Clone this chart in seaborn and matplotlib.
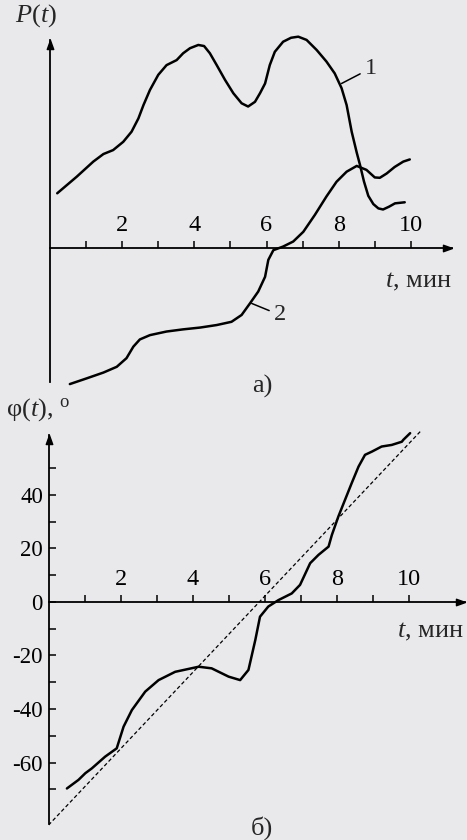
import numpy as np
import pandas as pd
import matplotlib
matplotlib.use("Agg")
import matplotlib.pyplot as plt
import seaborn as sns

# ---------------- data ----------------
# panel а) curve 1, P(t) (arbitrary units)
t_p1 = [0.20, 0.74, 1.2, 1.48, 1.75, 2.03, 2.26, 2.45, 2.59, 2.77, 3.0, 3.23, 3.51,
        3.69, 3.88, 4.11, 4.27, 4.43, 4.62, 4.85, 5.08, 5.31, 5.49, 5.68, 5.82,
        5.96, 6.09, 6.23, 6.46, 6.68, 6.88, 7.11, 7.39, 7.66, 7.89, 8.08, 8.22,
        8.36, 8.5, 8.59, 8.7, 8.82, 8.96, 9.1, 9.23, 9.4, 9.56, 9.83]
p1 = [1.52, 1.98, 2.40, 2.61, 2.72, 2.95, 3.23, 3.60, 3.97, 4.39, 4.81, 5.08, 5.22,
      5.41, 5.55, 5.64, 5.61, 5.41, 5.08, 4.67, 4.30, 4.02, 3.93, 4.06, 4.30,
      4.57, 5.08, 5.45, 5.73, 5.84, 5.87, 5.78, 5.50, 5.18, 4.85, 4.44, 3.97,
      3.23, 2.65, 2.31, 1.85, 1.45, 1.22, 1.10, 1.07, 1.15, 1.24, 1.27]
# panel а) curve 2
t_p2 = [0.55, 1.02, 1.48, 1.85, 2.12, 2.31, 2.49, 2.77, 3.23, 3.69, 4.16, 4.62,
        5.03, 5.31, 5.54, 5.77, 5.96, 6.05, 6.19, 6.46, 6.74, 7.02, 7.34, 7.66,
        7.94, 8.22, 8.5, 8.77, 9.0, 9.14, 9.33, 9.55, 9.79, 9.97]
p2 = [-3.78, -3.62, -3.46, -3.30, -3.06, -2.74, -2.54, -2.42, -2.32, -2.26, -2.21,
      -2.14, -2.05, -1.86, -1.54, -1.21, -0.80, -0.33, -0.06, 0.04, 0.18, 0.45,
      0.92, 1.43, 1.84, 2.12, 2.28, 2.17, 1.96, 1.95, 2.07, 2.25, 2.40, 2.46]
# panel б) phase phi(t), degrees
t_phi = [0.51, 0.83, 1.02, 1.2, 1.57, 1.89, 2.08, 2.31, 2.68, 3.05, 3.51, 4.16, 4.52,
         4.99, 5.31, 5.54, 5.73, 5.86, 6.09, 6.37, 6.74, 6.97, 7.25, 7.48, 7.76,
         7.85, 8.03, 8.4, 8.59, 8.77, 8.96, 9.23, 9.51, 9.79, 9.83, 10.02]
phi = [-69.7, -66.5, -64.0, -62.2, -57.8, -54.7, -46.6, -40.4, -33.5, -29.2, -26.1,
       -24.2, -24.8, -27.9, -29.2, -25.4, -14.2, -5.5, -1.7, 0.7, 3.2, 6.4, 14.5,
       17.6, 20.7, 25.0, 31.9, 44.4, 50.6, 55.0, 56.2, 58.1, 58.7, 59.9, 60.6, 63.1]
# panel б) dashed linear trend
t_lin = [0.0, 10.3]
phi_lin = [-83.4, 63.7]

x_major = [2, 4, 6, 8, 10]
x_minor = [1, 3, 5, 7, 9]
y_major = [-60, -40, -20, 0, 20, 40]
y_minor = [-70, -50, -30, -10, 10, 30, 50]
y_labels = ["-60", "-40", "-20", "0", "20", "40"]

# ---------------- style ----------------
sns.set_theme(style="white")
plt.rcParams["font.family"] = ["Liberation Serif", "DejaVu Serif"]
plt.rcParams["mathtext.fontset"] = "custom"
plt.rcParams["mathtext.rm"] = "Liberation Serif"
plt.rcParams["mathtext.it"] = "Liberation Serif:italic"
plt.rcParams["axes.unicode_minus"] = False

BG = "#e9e9ec"
W, H = 467, 840
fig = plt.figure(figsize=(W / 100, H / 100), dpi=100, facecolor=BG)
XFS = 17.5
YFS = 16.5
TFS = 19
LW = 1.8

ARROW_R = [(0, 0), (-1, 0.36), (-1, -0.36), (0, 0)]
ARROW_U = [(0, 0), (0.36, -1), (-0.36, -1), (0, 0)]


def px_axes(left, right, top, bottom):
    return fig.add_axes([left / W, 1 - bottom / H, (right - left) / W, (bottom - top) / H])


def style_axes(ax, ytop, ybot):
    ax.set_facecolor("none")
    for s in ["top", "right"]:
        ax.spines[s].set_visible(False)
    ax.spines["bottom"].set_position(("data", 0))
    ax.spines["left"].set_bounds(ybot, ytop)
    for s in ["bottom", "left"]:
        ax.spines[s].set_color("black")
        ax.spines[s].set_linewidth(1.3)
    ax.plot(1, 0, marker=ARROW_R, color="black", ms=13, transform=ax.get_yaxis_transform(),
            clip_on=False)
    ax.plot(0, ytop, marker=ARROW_U, color="black", ms=13, clip_on=False)
    ax.set_xticks(x_major)
    ax.set_xticklabels([str(v) for v in x_major], fontsize=XFS)
    ax.set_xticks(x_minor, minor=True)
    ax.tick_params(axis="x", which="both", bottom=True, top=False, direction="in",
                   length=5, width=1.1, color="black", pad=-24, labelcolor="black")
    ax.set_xlabel("")
    ax.set_ylabel("")


# ---------------- panel а) ----------------
ax1 = px_axes(50, 452, 28.4, 388.4)
ax1.set_xlim(0, 11.14)
ax1.set_ylim(-3.9, 6.1)
d1 = pd.DataFrame({"t": t_p1, "P": p1})
d2 = pd.DataFrame({"t": t_p2, "P": p2})
sns.lineplot(data=d1, x="t", y="P", ax=ax1, color="black", lw=LW, sort=False, estimator=None)
sns.lineplot(data=d2, x="t", y="P", ax=ax1, color="black", lw=LW, sort=False, estimator=None)
style_axes(ax1, 5.78, -3.72)
ax1.set_yticks([])
ax1.annotate("1", xy=(8.08, 4.57), xytext=(8.72, 4.99), fontsize=XFS, ha="left", va="center",
             arrowprops=dict(arrowstyle="-", color="black", lw=1.1, shrinkA=1, shrinkB=0))
ax1.annotate("2", xy=(5.59, -1.54), xytext=(6.2, -1.86), fontsize=XFS, ha="left", va="center",
             arrowprops=dict(arrowstyle="-", color="black", lw=1.1, shrinkA=1, shrinkB=0))

# ---------------- panel б) ----------------
ax2 = px_axes(48.5, 465, 425.4, 829.4)
ax2.set_xlim(0, 11.54)
ax2.set_ylim(-85, 66)
d3 = pd.DataFrame({"t": t_phi, "phi": phi})
d4 = pd.DataFrame({"t": t_lin, "phi": phi_lin})
sns.lineplot(data=d4, x="t", y="phi", ax=ax2, color="black", lw=0.9, ls=(0, (3, 2)),
             sort=False, estimator=None)
sns.lineplot(data=d3, x="t", y="phi", ax=ax2, color="black", lw=LW, sort=False, estimator=None)
style_axes(ax2, 62.5, -83)
ax2.set_yticks(y_major)
ax2.set_yticklabels(y_labels, fontsize=YFS)
ax2.set_yticks(y_minor, minor=True)
ax2.tick_params(axis="y", which="both", left=True, right=False, direction="in",
                length=5, width=1.1, color="black", pad=4, labelcolor="black")

# ---------------- texts ----------------
fig.text(36 / W, 1 - 16 / H, r"$P(t)$", fontsize=TFS, ha="center", va="center")
fig.text(452 / W, 1 - 282 / H, r"$t$, мин", fontsize=TFS, ha="right", va="center")
fig.text(262 / W, 1 - 386 / H, "а)", fontsize=TFS, ha="center", va="center")
fig.text(6 / W, 1 - 410 / H, r"φ($t$), $^{\mathrm{o}}$", fontsize=TFS, ha="left", va="center")
fig.text(464 / W, 1 - 632 / H, r"$t$, мин", fontsize=TFS, ha="right", va="center")
fig.text(262 / W, 1 - 828 / H, "б)", fontsize=TFS, ha="center", va="center")

fig.savefig("out.png", dpi=100, facecolor=BG)
